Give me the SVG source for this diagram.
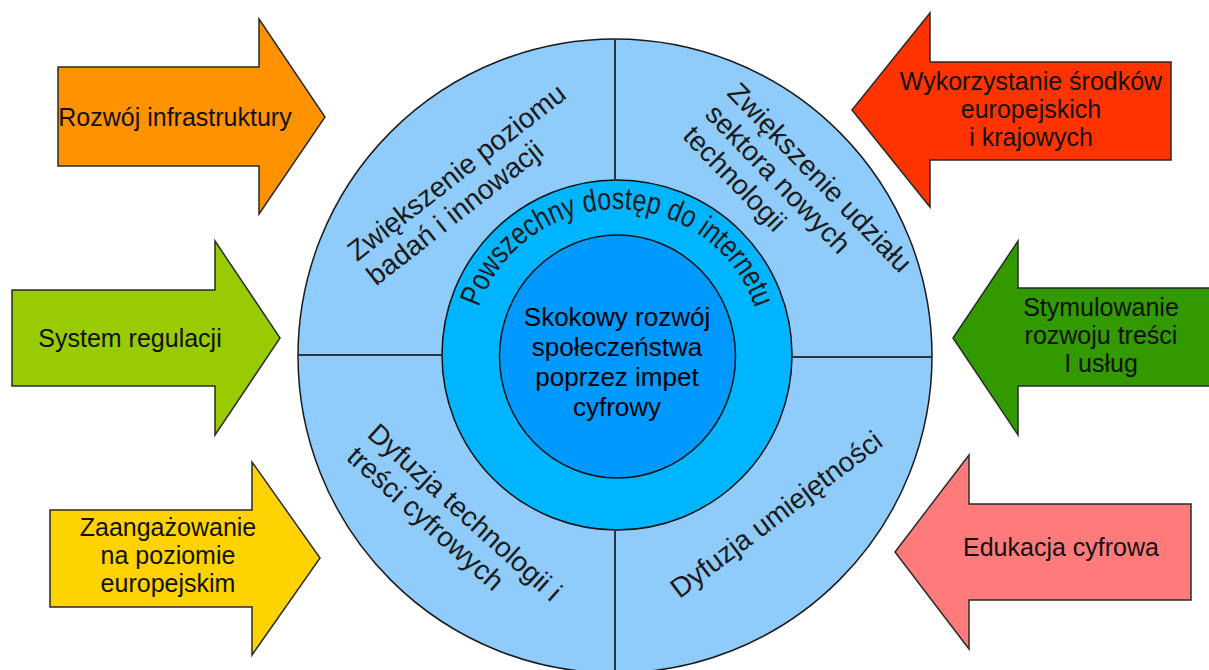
<svg xmlns="http://www.w3.org/2000/svg" width="1209" height="670" viewBox="0 0 1209 670">
<style>
.arrow{stroke:#2a2a2a;stroke-width:1.5;stroke-linejoin:miter}
.lbl{font-family:"Liberation Sans",Arial,sans-serif;font-size:25px;fill:#111;text-anchor:middle}
.ring{font-family:"Liberation Sans",Arial,sans-serif;font-size:28px;fill:#1a1a1a}
.ctr{font-family:"Liberation Sans",Arial,sans-serif;font-size:26px;fill:#000;text-anchor:middle}
.div{stroke:#333;stroke-width:2;fill:none}
</style>
<defs>
<path id="arcPath" d="M479,307.5 A146,146 0 0 1 755,307.5" fill="none"/>
</defs>
<rect width="1209" height="670" fill="#fff"/>

<g id="ring-outer">
<circle cx="615" cy="356" r="317" fill="#8FCBFB" stroke="#1a1a1a" stroke-width="1.5"/>
</g>
<g id="ring-middle">
<circle cx="617" cy="355" r="175" fill="#00B5FF" stroke="#111" stroke-width="1.5"/>
<text class="ring" style="font-size:31px"><textPath href="#arcPath" textLength="362" lengthAdjust="spacingAndGlyphs">Powszechny dostęp do internetu</textPath></text>
</g>
<g id="core">
<ellipse cx="617.5" cy="356.5" rx="118" ry="121.5" fill="#0099FF" stroke="#111" stroke-width="1.5"/>
<text class="ctr"><tspan x="617" y="326">Skokowy rozwój</tspan><tspan x="617" y="356">społeczeństwa</tspan><tspan x="617" y="386">poprzez impet</tspan><tspan x="617" y="416">cyfrowy</tspan></text>
</g>

<g id="connectors">
<line class="div" x1="615" y1="39" x2="615" y2="181"/>
<line class="div" x1="615" y1="529" x2="615" y2="672"/>
<line class="div" x1="298" y1="355" x2="442" y2="355"/>
<line class="div" x1="792" y1="357" x2="932" y2="357"/>
</g>

<g id="q-upper-left" transform="translate(357,262) rotate(-38)">
<text class="ring"><tspan x="0" y="0">Zwiększenie poziomu</tspan><tspan x="0" y="31">badań i innowacji</tspan></text>
</g>
<g id="q-upper-right" transform="translate(726,94) rotate(46)">
<text class="ring"><tspan x="0" y="0">Zwiększenie udziału</tspan><tspan x="0" y="31">sektora nowych</tspan><tspan x="0" y="62">technologii</tspan></text>
</g>
<g id="q-lower-left" transform="translate(366,436) rotate(42)">
<text class="ring"><tspan x="0" y="0">Dyfuzja technologii i</tspan><tspan x="0" y="31">treści cyfrowych</tspan></text>
</g>
<g id="q-lower-right" transform="translate(782,522) rotate(-37)">
<text class="ring" text-anchor="middle"><tspan x="0" y="0">Dyfuzja umiejętności</tspan></text>
</g>

<g id="arrow-infrastruktura">
<polygon class="arrow" fill="#FF9200" points="58,67 259,67 259,19 325,117 259,214 259,166 58,166"/>
<text class="lbl" x="175" y="126">Rozwój infrastruktury</text>
</g>
<g id="arrow-regulacja">
<polygon class="arrow" fill="#99CC00" points="12,290 215,290 215,241 280,338 215,435 215,386 12,386"/>
<text class="lbl" x="130" y="347">System regulacji</text>
</g>
<g id="arrow-zaangazowanie">
<polygon class="arrow" fill="#FFD300" points="50,510 252,510 252,462 320,558 252,655 252,607 50,607"/>
<text class="lbl"><tspan x="168" y="536">Zaangażowanie</tspan><tspan x="168" y="564">na poziomie</tspan><tspan x="168" y="592">europejskim</tspan></text>
</g>
<g id="arrow-srodki">
<polygon class="arrow" fill="#FF3300" points="1171,62 930,62 930,13 852,110 930,207 930,160 1171,160"/>
<text class="lbl"><tspan x="1031" y="90">Wykorzystanie środków</tspan><tspan x="1031" y="118">europejskich</tspan><tspan x="1031" y="146">i krajowych</tspan></text>
</g>
<g id="arrow-stymulowanie">
<polygon class="arrow" fill="#339900" points="1212,288 1018,288 1018,241 953,338 1018,435 1018,386 1212,386"/>
<text class="lbl"><tspan x="1101" y="316">Stymulowanie</tspan><tspan x="1101" y="344">rozwoju treści</tspan><tspan x="1101" y="372">I usług</tspan></text>
</g>
<g id="arrow-edukacja">
<polygon class="arrow" fill="#FF7B7B" points="1191,504 969,504 969,455 895,552 969,649 969,600 1191,600"/>
<text class="lbl" x="1061" y="556">Edukacja cyfrowa</text>
</g>
</svg>
